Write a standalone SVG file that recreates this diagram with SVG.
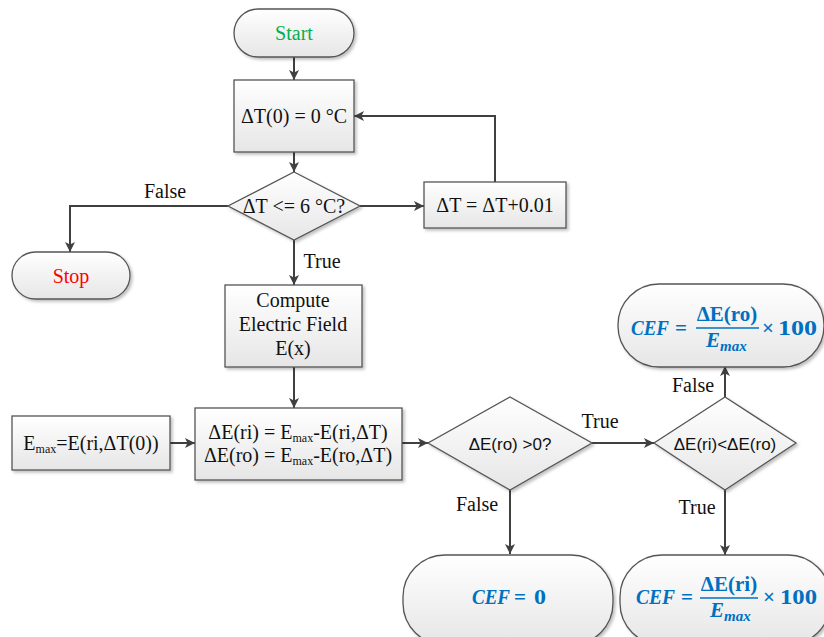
<svg xmlns="http://www.w3.org/2000/svg" width="824" height="637" viewBox="0 0 824 637">
<defs>
<linearGradient id="g" x1="0" y1="0" x2="0" y2="1">
<stop offset="0" stop-color="#ffffff"/>
<stop offset="1" stop-color="#e6e6e6"/>
</linearGradient>
<filter id="sh" x="-10%" y="-10%" width="125%" height="130%">
<feDropShadow dx="2" dy="2" stdDeviation="1.5" flood-color="#000" flood-opacity="0.25"/>
</filter>
<marker id="ah" viewBox="0 0 10 10" refX="10" refY="5" markerWidth="10" markerHeight="10" markerUnits="userSpaceOnUse" orient="auto">
<path d="M0,0 L10,5 L0,10 L2.5,5 Z" fill="#404040"/>
</marker>
</defs>
<style>
.s{fill:url(#g);stroke:#555;stroke-width:1.3;filter:url(#sh)}
.t{font-family:"Liberation Serif","Times New Roman",serif;font-size:20px;fill:#111;text-anchor:middle}
.d{font-family:"Liberation Sans",Arial,sans-serif;font-size:17px;fill:#111;text-anchor:middle}
.c{fill:none;stroke:#404040;stroke-width:2;marker-end:url(#ah)}
.f{font-family:"Liberation Serif","Times New Roman",serif;font-size:21px;fill:#0070c0;font-weight:bold}
.fi{font-style:italic}
.sub{font-size:12px}
.bar{stroke:#0070c0;stroke-width:1.6}
</style>
<rect width="824" height="637" fill="#fff"/>

<g id="connectors">
<path class="c" d="M294,57 V80"/>
<path class="c" d="M294,152 V172"/>
<path class="c" d="M228,206 H70 V252"/>
<path class="c" d="M360,206 H424"/>
<path class="c" d="M495,182 V116 H354"/>
<path class="c" d="M294,240 V285"/>
<path class="c" d="M294,367 V408"/>
<path class="c" d="M170,443 H195"/>
<path class="c" d="M402,443 H428"/>
<path class="c" d="M592,443 H654"/>
<path class="c" d="M725,397 V366"/>
<path class="c" d="M725,490 V555"/>
<path class="c" d="M510,490 V554"/>
<text class="t" x="165" y="198">False</text>
<text class="t" x="322" y="268">True</text>
<text class="t" x="600" y="428">True</text>
<text class="t" x="693" y="392">False</text>
<text class="t" x="697" y="514">True</text>
<text class="t" x="477" y="511">False</text>
</g>

<g id="start">
<rect class="s" x="234" y="9" width="120" height="48" rx="24"/>
<text class="t" x="294" y="40" style="fill:#00b050">Start</text>
</g>

<g id="init">
<rect class="s" x="234" y="80" width="120" height="72"/>
<text class="t" x="294" y="123">ΔT(0) = 0 °C</text>
</g>

<g id="cond1">
<polygon class="s" points="294,172 360,206 294,240 228,206"/>
<text class="t" x="294" y="213">ΔT &lt;= 6 °C?</text>
</g>

<g id="incr">
<rect class="s" x="424" y="182" width="142" height="46"/>
<text class="t" x="495" y="212">ΔT = ΔT+0.01</text>
</g>

<g id="stop">
<rect class="s" x="12" y="252" width="118" height="47" rx="23.5"/>
<text class="t" x="71" y="283" style="fill:#ff0000">Stop</text>
</g>

<g id="compute">
<rect class="s" x="225" y="285" width="137" height="82"/>
<text class="t" x="293" y="307">Compute</text>
<text class="t" x="293" y="331">Electric Field</text>
<text class="t" x="293" y="355">E(x)</text>
</g>

<g id="emax">
<rect class="s" x="12" y="416" width="158" height="54"/>
<text class="t" x="91" y="450">E<tspan class="sub" dy="3">max</tspan><tspan dy="-3">=E(ri,ΔT(0))</tspan></text>
</g>

<g id="delta">
<rect class="s" x="195" y="408" width="207" height="72"/>
<text class="t" x="298" y="439">ΔE(ri) = E<tspan class="sub" dy="3">max</tspan><tspan dy="-3">-E(ri,ΔT)</tspan></text>
<text class="t" x="298" y="462">ΔE(ro) = E<tspan class="sub" dy="3">max</tspan><tspan dy="-3">-E(ro,ΔT)</tspan></text>
</g>

<g id="cond2">
<polygon class="s" points="510,397 592,443 510,490 428,443"/>
<text class="d" x="510" y="450">ΔE(ro) &gt;0?</text>
</g>

<g id="cond3">
<polygon class="s" points="725,397 796,443 725,490 654,443"/>
<text class="d" x="725" y="450">ΔE(ri)&lt;ΔE(ro)</text>
</g>

<g id="cef-ro">
<rect class="s" x="618" y="284" width="206" height="83" rx="41"/>
<text class="f fi" x="631" y="335" textLength="38" lengthAdjust="spacingAndGlyphs">CEF</text>
<text class="f" x="675" y="335">=</text>
<text class="f" x="727" y="321" text-anchor="middle">ΔE(ro)</text>
<line class="bar" x1="696" y1="328" x2="759" y2="328"/>
<text class="f fi" x="706" y="347">E<tspan font-size="15" dy="4">max</tspan></text>
<text class="f" x="762" y="335">×</text>
<text class="f" x="778" y="335" textLength="39" lengthAdjust="spacingAndGlyphs">100</text>
</g>

<g id="cef-zero">
<rect class="s" x="403" y="555" width="210" height="90" rx="42"/>
<text class="f fi" x="472" y="604" textLength="38" lengthAdjust="spacingAndGlyphs">CEF</text>
<text class="f" x="514" y="604">=</text>
<text class="f" x="534" y="604" textLength="12" lengthAdjust="spacingAndGlyphs">0</text>
</g>

<g id="cef-ri">
<rect class="s" x="620" y="555" width="210" height="90" rx="42"/>
<text class="f fi" x="636" y="604" textLength="39" lengthAdjust="spacingAndGlyphs">CEF</text>
<text class="f" x="681" y="604">=</text>
<text class="f" x="729" y="591" text-anchor="middle">ΔE(ri)</text>
<line class="bar" x1="700" y1="598" x2="758" y2="598"/>
<text class="f fi" x="710" y="617">E<tspan font-size="15" dy="4">max</tspan></text>
<text class="f" x="763" y="604">×</text>
<text class="f" x="780" y="604" textLength="37" lengthAdjust="spacingAndGlyphs">100</text>
</g>
</svg>
